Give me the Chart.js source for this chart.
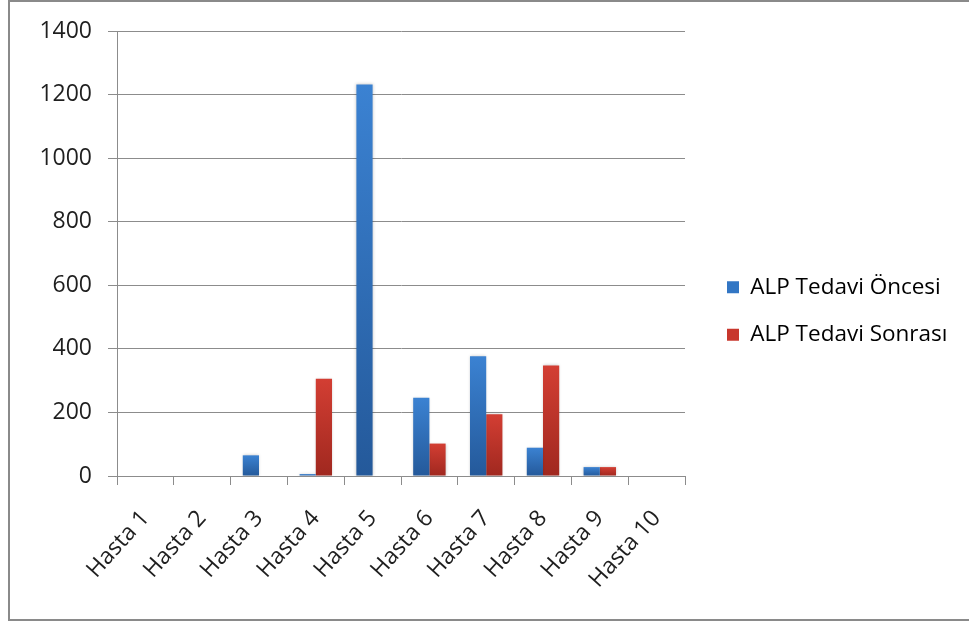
<!DOCTYPE html>
<html>
<head>
<meta charset="utf-8">
<script src="https://cdn.jsdelivr.net/npm/chart.js@4/dist/chart.umd.min.js"></script>
<style>
  html, body { margin: 0; padding: 0; background: #fff; }
  #wrap { position: relative; width: 969px; height: 621px; overflow: hidden; }
  #frame { position: absolute; left: 8px; top: 0; width: 980px; height: 617px;
           border: 2px solid #8a8a8a; box-sizing: content-box; pointer-events: none; }
  canvas { position: absolute; left: 0; top: 0; }
</style>
</head>
<body>
<div id="wrap">
  <canvas id="c" width="969" height="621"></canvas>
  <div id="frame"></div>
</div>
<script>
// Patients and ALP values before / after treatment
const categories = ['Hasta 1', 'Hasta 2', 'Hasta 3', 'Hasta 4', 'Hasta 5',
                    'Hasta 6', 'Hasta 7', 'Hasta 8', 'Hasta 9', 'Hasta 10'];
const alpOncesi = [0, 0, 65, 6, 1232, 246, 377, 89, 28, 0];
const alpSonrasi = [0, 0, 0, 306, 0, 102, 194, 348, 28, 0];
const seriesNames = ['ALP Tedavi Öncesi', 'ALP Tedavi Sonrası'];
const yTicks = [0, 200, 400, 600, 800, 1000, 1200, 1400];

const FONT = '"Open Sans", "Liberation Sans", sans-serif';
const TEXT = '#1f1f1f';
const GRID = '#8c8c8c';

// plot area placement
const PLOT_RIGHT = 685;
const LEGEND_X = 727;       // left edge of the legend swatches
const LEGEND_FIRST_Y = 287; // centre of the first legend row
const LEGEND_PAD = 25;

// vertical gradient for each bar, from its top down to the baseline
function barGradient(light, dark) {
  return (ctx) => {
    const chart = ctx.chart;
    const y = chart.scales && chart.scales.y;
    if (ctx.type !== 'data' || !y || !chart.chartArea) return light;
    const top = y.getPixelForValue(ctx.raw);
    const bottom = y.getPixelForValue(0);
    if (!isFinite(top) || Math.abs(bottom - top) < 1) return dark;
    const g = chart.ctx.createLinearGradient(0, top, 0, bottom);
    g.addColorStop(0, light);
    g.addColorStop(1, dark);
    return g;
  };
}

// soft halo behind the bars
const barShadow = {
  id: 'barShadow',
  beforeDatasetsDraw(chart) {
    const c = chart.ctx;
    c.save();
    c.shadowColor = 'rgba(0,0,0,0.22)';
    c.shadowBlur = 3;
  },
  afterDatasetsDraw(chart) {
    chart.ctx.restore();
  }
};

// fixed-width legend column on the right, rows placed at a set height
const legendPlacement = {
  id: 'legendPlacement',
  beforeLayout(chart) {
    const lg = chart.legend;
    if (lg && !lg._fixedFit) {
      const fit = lg.fit.bind(lg);
      lg.fit = function () {
        fit();
        this.width = chart.width - PLOT_RIGHT;
      };
      lg._fixedFit = true;
    }
  },
  afterLayout(chart) {
    const lg = chart.legend;
    if (!lg) return;
    const dx = (LEGEND_X - LEGEND_PAD) - lg.left;
    lg.left += dx; lg.right += dx;
    const h = lg.bottom - lg.top;
    lg.top = LEGEND_FIRST_Y - 11 - LEGEND_PAD;
    lg.bottom = lg.top + h;
  }
};

new Chart(document.getElementById('c'), {
  type: 'bar',
  data: {
    labels: categories,
    datasets: [
      {
        label: seriesNames[0],
        data: alpOncesi,
        backgroundColor: barGradient('#3b82d2', '#24599a'),
        borderWidth: 0,
        categoryPercentage: 0.571,
        barPercentage: 1.0
      },
      {
        label: seriesNames[1],
        data: alpSonrasi,
        backgroundColor: barGradient('#d33e33', '#a0281f'),
        borderWidth: 0,
        categoryPercentage: 0.571,
        barPercentage: 1.0
      }
    ]
  },
  options: {
    responsive: false,
    animation: false,
    events: [],
    layout: { padding: { top: 31, left: 20, right: 0, bottom: 10 } },
    plugins: {
      tooltip: { enabled: false },
      legend: {
        position: 'right',
        align: 'start',
        labels: {
          boxWidth: 12,
          boxHeight: 12,
          padding: LEGEND_PAD,
          color: TEXT,
          font: { family: FONT, size: 22.5 },
          generateLabels(chart) {
            const solid = ['#3276c4', '#c8372d'];
            return chart.data.datasets.map((ds, i) => ({
              text: ds.label,
              fillStyle: solid[i],
              strokeStyle: solid[i],
              lineWidth: 0,
              datasetIndex: i,
              hidden: false
            }));
          }
        }
      }
    },
    scales: {
      x: {
        grid: {
          display: true,
          drawOnChartArea: false,
          drawTicks: true,
          tickLength: 9,
          color: GRID,
          offset: true
        },
        border: { display: true, color: GRID, width: 1 },
        ticks: {
          color: TEXT,
          font: { family: FONT, size: 23 },
          minRotation: 48,
          maxRotation: 48,
          autoSkip: false,
          padding: 20
        },
        afterFit(scale) { scale.height = 135; }
      },
      y: {
        min: 0,
        max: 1400,
        afterBuildTicks(scale) { scale.ticks = yTicks.map(v => ({ value: v })); },
        grid: {
          color: GRID,
          lineWidth: 1,
          drawTicks: true,
          tickLength: 9
        },
        border: { display: true, color: GRID, width: 1 },
        ticks: {
          color: TEXT,
          font: { family: FONT, size: 23 },
          padding: 16,
          callback: (v) => String(v)
        },
        afterFit(scale) { scale.width = 97; }
      }
    }
  },
  plugins: [barShadow, legendPlacement]
});
</script>
</body>
</html>
